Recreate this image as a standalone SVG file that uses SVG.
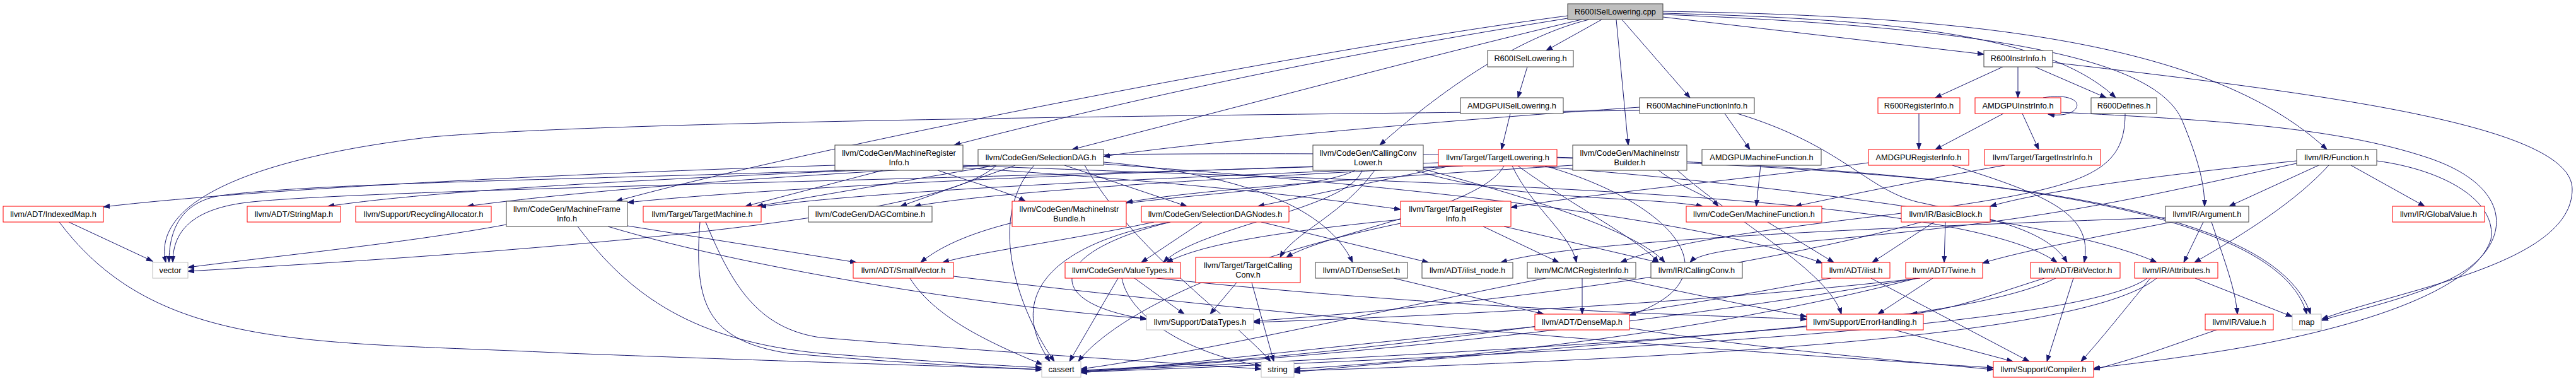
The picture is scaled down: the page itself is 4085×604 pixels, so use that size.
<svg xmlns="http://www.w3.org/2000/svg" width="4085" height="604" viewBox="0 0 4085 604">
<style>
.n rect{fill:#fff;stroke:#404040;stroke-width:1}
.n.r rect{stroke:#ff0000}
.n.g rect{stroke:#bfbfbf}
.n text{font-family:"Liberation Sans",Arial,sans-serif;font-size:12.8px;text-anchor:middle;fill:#000}
#edges path{fill:none;stroke:#191970;stroke-width:1;marker-end:url(#a)}
</style>
<defs>
<marker id="a" markerWidth="11" markerHeight="8" refX="10" refY="4" orient="auto" markerUnits="userSpaceOnUse"><path d="M0,0.5 L10,4 L0,7.5 z" fill="#191970" stroke="#191970" stroke-width="1"/></marker>
</defs>
<rect width="4085" height="604" fill="#fff"/>
<g id="edges">
<path d="M2540,31 L2452,80"/>
<path d="M2572,31 L2680,155"/>
<path d="M2563,31 L2582,230"/>
<path d="M2520,31 C2420,55 2300,130 2188,230"/>
<path d="M2508,31 C2300,80 2000,160 1700,237"/>
<path d="M2486,29 C2200,75 1900,130 1513,230"/>
<path d="M2486,25 C2100,75 1300,230 977,319"/>
<path d="M2637,27 L3146,86"/>
<path d="M2637,21 C3000,30 3250,55 3355,155"/>
<path d="M2637,18 C3100,25 3500,60 3690,237"/>
<path d="M2637,23 C3200,45 3420,100 3460,190 C3485,250 3496,290 3496,327"/>
<path d="M2422,106 L2407,155"/>
<path d="M2395,180 L2381,237"/>
<path d="M2735,180 L2775,237"/>
<path d="M2755,180 C2920,230 2960,300 3040,320 C3180,350 3250,370 3278,416"/>
<path d="M2600,170 C2300,190 1900,225 1750,248"/>
<path d="M2600,175 C2000,182 1000,190 685,217 C400,250 240,320 263,416"/>
<path d="M3176,106 L3069,155"/>
<path d="M3200,106 L3200,155"/>
<path d="M3227,106 L3340,155"/>
<path d="M3255,99 C3700,150 4079,200 4079,300 C4079,420 3800,460 3682,506"/>
<path d="M3043,180 L3043,237"/>
<path d="M3177,180 L3069,237"/>
<path d="M3207,180 L3233,237"/>
<path d="M3240,155 C3280,148 3300,160 3292,172 C3285,182 3265,184 3248,181"/>
<path d="M3268,178 C3500,190 3700,200 3850,250 C4000,300 3980,400 3880,445 C3800,480 3720,495 3682,508"/>
<path d="M3370,180 C3370,280 3300,300 3000,340 C2700,375 2620,395 2570,416"/>
<path d="M2792,262 L2785,327"/>
<path d="M2963,258 C2800,280 2500,310 2396,329"/>
<path d="M3096,262 C3250,310 3320,340 3305,416"/>
<path d="M3179,262 C3050,285 2950,305 2847,327"/>
<path d="M3769,255 C3880,270 3960,320 3950,380 C3920,470 3700,530 3500,560 C3400,575 3350,580 3320,584"/>
<path d="M3728,262 L3845,327"/>
<path d="M3693,262 C3640,320 3560,370 3480,416"/>
<path d="M3677,262 L3535,327"/>
<path d="M3642,255 C3450,275 3250,300 3156,327"/>
<path d="M3642,259 C3450,300 3300,340 3000,370 C2800,390 2700,395 2680,416"/>
<path d="M1487,270 C1560,295 1600,305 1626,319"/>
<path d="M1324,262 C900,275 400,300 164,328"/>
<path d="M1400,270 L1182,327"/>
<path d="M1527,266 C1900,290 2100,315 2221,332"/>
<path d="M1340,270 C900,285 500,290 350,310 C290,320 268,360 268,416"/>
<path d="M1527,262 C2200,290 3100,300 3262,416"/>
<path d="M803,356 C650,385 400,410 298,424"/>
<path d="M995,358 L1358,416"/>
<path d="M964,359 C1200,430 1600,490 1818,505"/>
<path d="M916,359 C1000,470 1100,540 1300,560 C1500,575 1600,580 1652,583"/>
<path d="M1110,352 C1100,480 1120,540 1250,560 C1450,578 1600,583 1652,586"/>
<path d="M1119,352 C1160,450 1200,520 1300,535 C1600,560 1900,578 2000,585"/>
<path d="M1560,262 C1100,280 700,300 520,327"/>
<path d="M1570,262 C1200,280 900,305 741,327"/>
<path d="M1610,262 L1428,327"/>
<path d="M1580,262 L1200,327"/>
<path d="M1688,262 L1882,327"/>
<path d="M1750,257 C1950,275 2100,320 2145,416"/>
<path d="M1750,260 C2300,300 2700,350 2890,417"/>
<path d="M1640,262 C1560,350 1620,500 1672,573"/>
<path d="M1720,262 C1800,400 1950,500 2015,573"/>
<path d="M1750,245 C2800,235 3600,280 3658,498"/>
<path d="M1580,262 C1500,340 1000,390 298,430"/>
<path d="M2082,264 C1600,280 1200,300 995,321"/>
<path d="M2149,270 C2050,320 1600,300 1460,416"/>
<path d="M2160,270 C2140,330 1900,360 1845,416"/>
<path d="M2180,270 C2130,340 2050,370 2030,408"/>
<path d="M2245,270 C2400,320 2600,310 2700,327"/>
<path d="M2257,268 C2450,320 2600,370 2640,416"/>
<path d="M2320,263 C2000,280 1600,300 1450,327"/>
<path d="M2310,263 C1900,280 1400,300 1205,328"/>
<path d="M2300,263 L1995,327"/>
<path d="M2385,263 C2350,330 2100,370 2040,408"/>
<path d="M2398,263 C2430,330 2490,370 2500,416"/>
<path d="M2407,263 C2500,330 2600,380 2630,416"/>
<path d="M2431,263 C2900,300 3300,360 3420,416"/>
<path d="M2450,263 C2650,320 2760,440 2584,500"/>
<path d="M2469,250 C3000,270 3600,300 3664,498"/>
<path d="M2281,258 C1500,285 600,300 400,320 C300,330 274,370 274,416"/>
<path d="M2630,270 C2670,300 2710,310 2725,327"/>
<path d="M2494,262 C2200,280 1900,300 1786,321"/>
<path d="M2660,270 C2750,350 2900,430 2920,498"/>
<path d="M109,352 L242,414"/>
<path d="M94,352 C250,560 500,540 900,560 C1300,575 1500,580 1652,586"/>
<path d="M1906,352 L1810,416"/>
<path d="M1830,352 C1700,380 1550,400 1495,416"/>
<path d="M1856,352 C1650,390 1600,480 1665,573"/>
<path d="M1856,352 C1660,400 1650,480 1818,506"/>
<path d="M2000,352 L2265,416"/>
<path d="M2221,348 C2000,370 1900,390 1850,416"/>
<path d="M2221,354 C1900,420 1750,520 1710,573"/>
<path d="M2352,359 L2472,416"/>
<path d="M2385,359 L2630,416"/>
<path d="M2803,352 L2908,416"/>
<path d="M3067,352 L2969,416"/>
<path d="M3085,352 L3083,416"/>
<path d="M3047,352 C2800,420 2400,480 1988,509"/>
<path d="M3434,345 C3000,360 2500,380 2380,416"/>
<path d="M3444,352 C3300,380 3200,400 3144,417"/>
<path d="M3494,352 L3463,416"/>
<path d="M3507,352 C3530,420 3545,460 3548,498"/>
<path d="M1443,441 C1480,500 1560,540 1653,578"/>
<path d="M1512,438 C2200,520 2800,560 3161,583"/>
<path d="M1773,441 L1696,573"/>
<path d="M1779,441 C1790,500 1880,560 2000,580"/>
<path d="M1799,441 L1878,498"/>
<path d="M1834,441 C2300,490 2700,500 2865,506"/>
<path d="M1961,448 L1919,498"/>
<path d="M1985,448 L2020,573"/>
<path d="M2210,441 L2448,498"/>
<path d="M2509,441 L2509,498"/>
<path d="M2451,441 C2200,490 1900,560 1714,585"/>
<path d="M2566,441 C2700,470 2800,490 2865,502"/>
<path d="M2967,441 L3218,573"/>
<path d="M2903,441 C2500,520 2000,575 1714,587"/>
<path d="M3065,441 L2978,498"/>
<path d="M3045,441 C2700,480 2300,500 1988,511"/>
<path d="M3040,441 C2600,520 2000,575 1714,588"/>
<path d="M3040,441 C2700,530 2300,570 2052,585"/>
<path d="M3288,441 L3246,573"/>
<path d="M3242,441 C3150,470 3100,490 3030,498"/>
<path d="M3260,441 C3100,520 2500,550 1714,589"/>
<path d="M3481,441 L3635,502"/>
<path d="M3410,441 C3370,490 3330,540 3300,573"/>
<path d="M3405,441 C3300,520 2500,560 1714,590"/>
<path d="M3420,441 C3300,540 2600,570 2052,588"/>
<path d="M2434,518 C2100,550 1900,575 1714,591"/>
<path d="M2584,520 C2800,555 3000,570 3161,586"/>
<path d="M3004,523 L3192,573"/>
<path d="M2865,518 C2500,550 2200,575 2052,590"/>
<path d="M3515,523 C3450,545 3400,565 3320,586"/>
</g>
<g id="n0" class="n"><rect x="2486" y="6" width="151" height="25" style="fill:#bfbfbf"/><text x="2561.5" y="23">R600ISelLowering.cpp</text></g>
<g id="n1" class="n"><rect x="2359" y="80" width="136" height="26"/><text x="2427" y="97">R600ISelLowering.h</text></g>
<g id="n2" class="n"><rect x="3146" y="80" width="109" height="26"/><text x="3200.5" y="97">R600InstrInfo.h</text></g>
<g id="n3" class="n"><rect x="2316" y="155" width="163" height="25"/><text x="2397.5" y="172">AMDGPUISelLowering.h</text></g>
<g id="n4" class="n"><rect x="2600" y="155" width="182" height="25"/><text x="2691" y="172">R600MachineFunctionInfo.h</text></g>
<g id="n5" class="n r"><rect x="2978" y="155" width="130" height="25"/><text x="3043" y="172">R600RegisterInfo.h</text></g>
<g id="n6" class="n r"><rect x="3132" y="155" width="136" height="25"/><text x="3200" y="172">AMDGPUInstrInfo.h</text></g>
<g id="n7" class="n"><rect x="3316" y="155" width="104" height="25"/><text x="3368" y="172">R600Defines.h</text></g>
<g id="n8" class="n"><rect x="1324" y="230" width="203" height="40"/><text x="1425.5" y="247">llvm/CodeGen/MachineRegister</text><text x="1425.5" y="262">Info.h</text></g>
<g id="n9" class="n"><rect x="1551" y="237" width="199" height="25"/><text x="1650.5" y="254">llvm/CodeGen/SelectionDAG.h</text></g>
<g id="n10" class="n"><rect x="2082" y="230" width="175" height="40"/><text x="2169.5" y="247">llvm/CodeGen/CallingConv</text><text x="2169.5" y="262">Lower.h</text></g>
<g id="n11" class="n r"><rect x="2281" y="237" width="188" height="26"/><text x="2375" y="254">llvm/Target/TargetLowering.h</text></g>
<g id="n12" class="n"><rect x="2494" y="230" width="181" height="40"/><text x="2584.5" y="247">llvm/CodeGen/MachineInstr</text><text x="2584.5" y="262">Builder.h</text></g>
<g id="n13" class="n"><rect x="2699" y="237" width="189" height="25"/><text x="2793.5" y="254">AMDGPUMachineFunction.h</text></g>
<g id="n14" class="n r"><rect x="2963" y="237" width="159" height="25"/><text x="3042.5" y="254">AMDGPURegisterInfo.h</text></g>
<g id="n15" class="n r"><rect x="3147" y="237" width="184" height="25"/><text x="3239" y="254">llvm/Target/TargetInstrInfo.h</text></g>
<g id="n16" class="n"><rect x="3642" y="237" width="127" height="25"/><text x="3705.5" y="254">llvm/IR/Function.h</text></g>
<g id="n17" class="n r"><rect x="5" y="327" width="159" height="25"/><text x="84.5" y="344">llvm/ADT/IndexedMap.h</text></g>
<g id="n18" class="n r"><rect x="392" y="327" width="148" height="25"/><text x="466" y="344">llvm/ADT/StringMap.h</text></g>
<g id="n19" class="n r"><rect x="564" y="327" width="215" height="25"/><text x="671.5" y="344">llvm/Support/RecyclingAllocator.h</text></g>
<g id="n20" class="n"><rect x="803" y="319" width="192" height="40"/><text x="899" y="336">llvm/CodeGen/MachineFrame</text><text x="899" y="351">Info.h</text></g>
<g id="n21" class="n r"><rect x="1020" y="327" width="187" height="25"/><text x="1113.5" y="344">llvm/Target/TargetMachine.h</text></g>
<g id="n22" class="n"><rect x="1282" y="327" width="196" height="25"/><text x="1380" y="344">llvm/CodeGen/DAGCombine.h</text></g>
<g id="n23" class="n r"><rect x="1605" y="319" width="181" height="40"/><text x="1695.5" y="336">llvm/CodeGen/MachineInstr</text><text x="1695.5" y="351">Bundle.h</text></g>
<g id="n24" class="n r"><rect x="1810" y="327" width="234" height="25"/><text x="1927" y="344">llvm/CodeGen/SelectionDAGNodes.h</text></g>
<g id="n25" class="n r"><rect x="2221" y="319" width="175" height="40"/><text x="2308.5" y="336">llvm/Target/TargetRegister</text><text x="2308.5" y="351">Info.h</text></g>
<g id="n26" class="n r"><rect x="2674" y="327" width="215" height="25"/><text x="2781.5" y="344">llvm/CodeGen/MachineFunction.h</text></g>
<g id="n27" class="n r"><rect x="3015" y="327" width="141" height="25"/><text x="3085.5" y="344">llvm/IR/BasicBlock.h</text></g>
<g id="n28" class="n"><rect x="3434" y="327" width="132" height="25"/><text x="3500" y="344">llvm/IR/Argument.h</text></g>
<g id="n29" class="n r"><rect x="3794" y="327" width="146" height="25"/><text x="3867" y="344">llvm/IR/GlobalValue.h</text></g>
<g id="n30" class="n g"><rect x="242" y="416" width="56" height="25"/><text x="270" y="433">vector</text></g>
<g id="n31" class="n r"><rect x="1353" y="416" width="159" height="25"/><text x="1432.5" y="433">llvm/ADT/SmallVector.h</text></g>
<g id="n32" class="n r"><rect x="1689" y="416" width="183" height="25"/><text x="1780.5" y="433">llvm/CodeGen/ValueTypes.h</text></g>
<g id="n33" class="n r"><rect x="1896" y="408" width="166" height="40"/><text x="1979" y="425">llvm/Target/TargetCalling</text><text x="1979" y="440">Conv.h</text></g>
<g id="n34" class="n"><rect x="2086" y="416" width="146" height="25"/><text x="2159" y="433">llvm/ADT/DenseSet.h</text></g>
<g id="n35" class="n"><rect x="2255" y="416" width="144" height="25"/><text x="2327" y="433">llvm/ADT/ilist_node.h</text></g>
<g id="n36" class="n"><rect x="2422" y="416" width="172" height="25"/><text x="2508" y="433">llvm/MC/MCRegisterInfo.h</text></g>
<g id="n37" class="n"><rect x="2618" y="416" width="145" height="25"/><text x="2690.5" y="433">llvm/IR/CallingConv.h</text></g>
<g id="n38" class="n r"><rect x="2889" y="416" width="108" height="25"/><text x="2943" y="433">llvm/ADT/ilist.h</text></g>
<g id="n39" class="n r"><rect x="3022" y="416" width="122" height="25"/><text x="3083" y="433">llvm/ADT/Twine.h</text></g>
<g id="n40" class="n r"><rect x="3220" y="416" width="142" height="25"/><text x="3291" y="433">llvm/ADT/BitVector.h</text></g>
<g id="n41" class="n r"><rect x="3385" y="416" width="132" height="25"/><text x="3451" y="433">llvm/IR/Attributes.h</text></g>
<g id="n42" class="n g"><rect x="1818" y="498" width="170" height="25"/><text x="1903" y="515">llvm/Support/DataTypes.h</text></g>
<g id="n43" class="n r"><rect x="2434" y="498" width="150" height="25"/><text x="2509" y="515">llvm/ADT/DenseMap.h</text></g>
<g id="n44" class="n r"><rect x="2865" y="498" width="185" height="25"/><text x="2957.5" y="515">llvm/Support/ErrorHandling.h</text></g>
<g id="n45" class="n r"><rect x="3497" y="498" width="108" height="25"/><text x="3551" y="515">llvm/IR/Value.h</text></g>
<g id="n46" class="n g"><rect x="3635" y="498" width="46" height="25"/><text x="3658" y="515">map</text></g>
<g id="n47" class="n g"><rect x="1652" y="573" width="62" height="25"/><text x="1683" y="590">cassert</text></g>
<g id="n48" class="n g"><rect x="2000" y="573" width="52" height="25"/><text x="2026" y="590">string</text></g>
<g id="n49" class="n r"><rect x="3161" y="573" width="159" height="25"/><text x="3240.5" y="590">llvm/Support/Compiler.h</text></g>
</svg>
